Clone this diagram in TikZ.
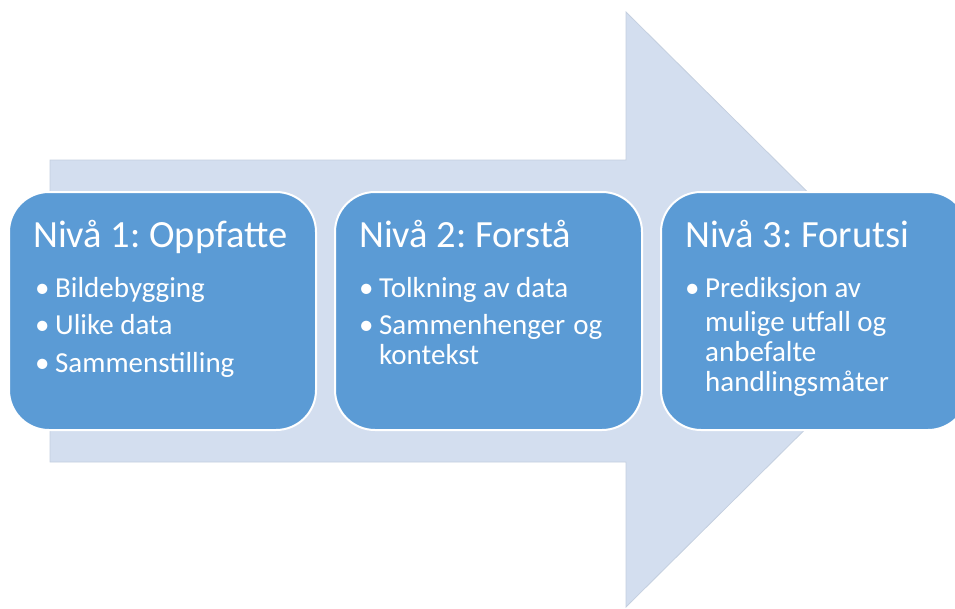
\documentclass[tikz,border=0pt]{standalone}
\usepackage{fontspec}
\setmainfont{Carlito}
\usetikzlibrary{positioning}

\definecolor{pilblaa}{HTML}{D3DEEF}
\definecolor{pilkant}{HTML}{C4CFDF}
\definecolor{boksblaa}{HTML}{5B9BD5}

% one bullet item, with hanging indent for the wrapped lines
\newcommand{\punkt}[1]{\par\hangindent=20pt\hangafter=1\noindent\makebox[20pt][l]{•}#1}
\newcommand{\liste}[1]{\parbox[t]{280pt}{\frenchspacing\fontsize{29}{30}\selectfont\parskip=7.5pt #1}}

\begin{document}
\begin{tikzpicture}[x=1pt,y=-1pt,
		nivaa/.style={draw=white,line width=2pt,fill=boksblaa,rounded corners=40pt,
			minimum width=307pt,minimum height=238pt,inner sep=0pt,anchor=north west},
		tittel/.style={anchor=base west,inner sep=0pt,text=white,
			font=\fontsize{38.5}{40}\selectfont\frenchspacing},
		punkter/.style={anchor=base west,inner sep=0pt,text=white}]
	\path[use as bounding box] (0,0) rectangle (955,608);
	\clip (0,0) rectangle (955,608);

	% the big arrow behind
	\fill[pilblaa,draw=pilkant,line width=0.8pt]
		(50,160) -- (626,160) -- (626,12) -- (926,309.5)
		-- (626,607) -- (626,462) -- (50,462) -- cycle;

	\node[nivaa] (niva1) at (8,191) {};
	\node[nivaa,right=17pt of niva1.north east,anchor=north west] (niva2) {};
	\node[nivaa,right=17pt of niva2.north east,anchor=north west] (niva3) {};

	\node[tittel] (t1) at ([shift={(25,56)}]niva1.north west) {Nivå 1: Oppfatte};
	\node[tittel] (t2) at ([shift={(25,56)}]niva2.north west) {Nivå 2: Forstå};
	\node[tittel] (t3) at ([shift={(25,56)}]niva3.north west) {Nivå 3: Forutsi};

	\node[punkter] (p1) at ([shift={(27,106)}]niva1.north west)
		{\liste{\punkt{Bildebygging}\punkt{Ulike data}\punkt{Sammenstilling}}};
	\node[punkter] (p2) at ([shift={(25,106)}]niva2.north west)
		{\liste{\punkt{Tolkning av data}\punkt{Sammenhenger\hspace{8pt}og\\kontekst}}};
	\node[punkter] (p3) at ([shift={(25,106)}]niva3.north west)
		{\liste{\punkt{Prediksjon av\\[4pt]mulige utfall og\\anbefalte\\handlingsmåter}}};
\end{tikzpicture}
\end{document}
